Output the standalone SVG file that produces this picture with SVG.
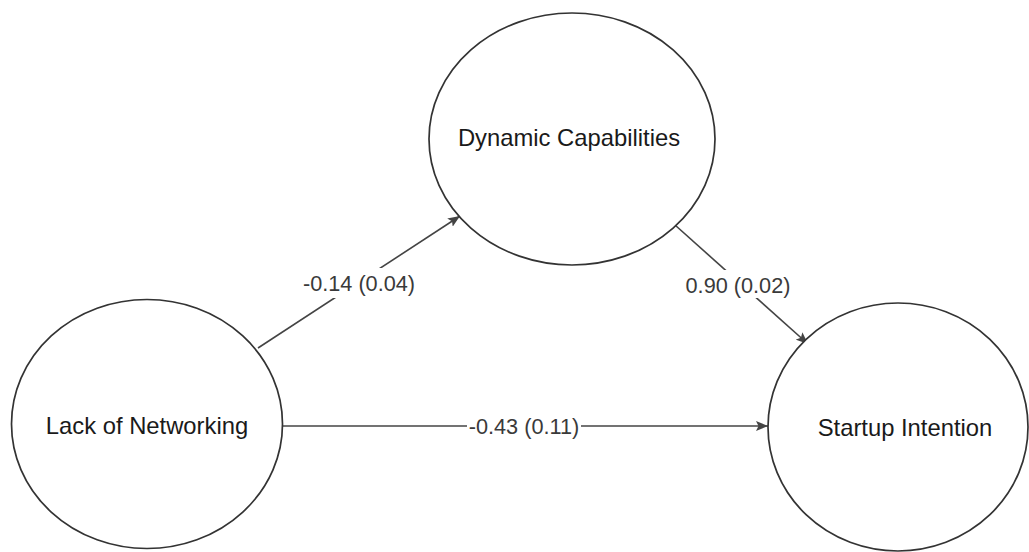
<svg xmlns="http://www.w3.org/2000/svg" width="1029" height="552" viewBox="0 0 1029 552">
<style>
.node ellipse{fill:#fff;stroke:#333;stroke-width:1.7}
.node text{font-family:"Liberation Sans",Arial,sans-serif;font-size:23.8px;fill:#1a1a1a;text-anchor:middle}
.edge line{stroke:#444;stroke-width:1.6;fill:none}
.lbl rect{fill:#fff}
.lbl text{font-family:"Liberation Sans",Arial,sans-serif;font-size:21.7px;fill:#3a3a3a;text-anchor:middle}
</style>
<defs>
<marker id="ah" viewBox="0 0 12 10" refX="12" refY="5" markerWidth="12" markerHeight="10" markerUnits="userSpaceOnUse" orient="auto">
<path d="M0,0 L12,5 L0,10 L2.5,5 z" fill="#444"/>
</marker>
</defs>
<rect width="1029" height="552" fill="#fff"/>
<g id="connectors">
<g class="edge">
<line x1="258" y1="348" x2="460" y2="216" marker-end="url(#ah)"/>
<line x1="675" y1="225" x2="808" y2="344" marker-end="url(#ah)"/>
<line x1="282" y1="426" x2="768" y2="426" marker-end="url(#ah)"/>
</g>
<g class="lbl">
<rect x="300" y="268" width="118" height="30"/>
<text x="359" y="291">-0.14 (0.04)</text>
<rect x="684" y="270" width="108" height="28"/>
<text x="738" y="293">0.90 (0.02)</text>
<rect x="467" y="416" width="114" height="22"/>
<text x="524" y="434">-0.43 (0.11)</text>
</g>
</g>
<g id="node-dynamic" class="node">
<ellipse cx="572" cy="139" rx="143" ry="126"/>
<text x="569" y="146">Dynamic Capabilities</text>
</g>
<g id="node-lack" class="node">
<ellipse cx="147" cy="424" rx="135.5" ry="124.5"/>
<text x="147" y="434">Lack of Networking</text>
</g>
<g id="node-startup" class="node">
<ellipse cx="898" cy="427" rx="130" ry="124"/>
<text x="905" y="436">Startup Intention</text>
</g>
</svg>
